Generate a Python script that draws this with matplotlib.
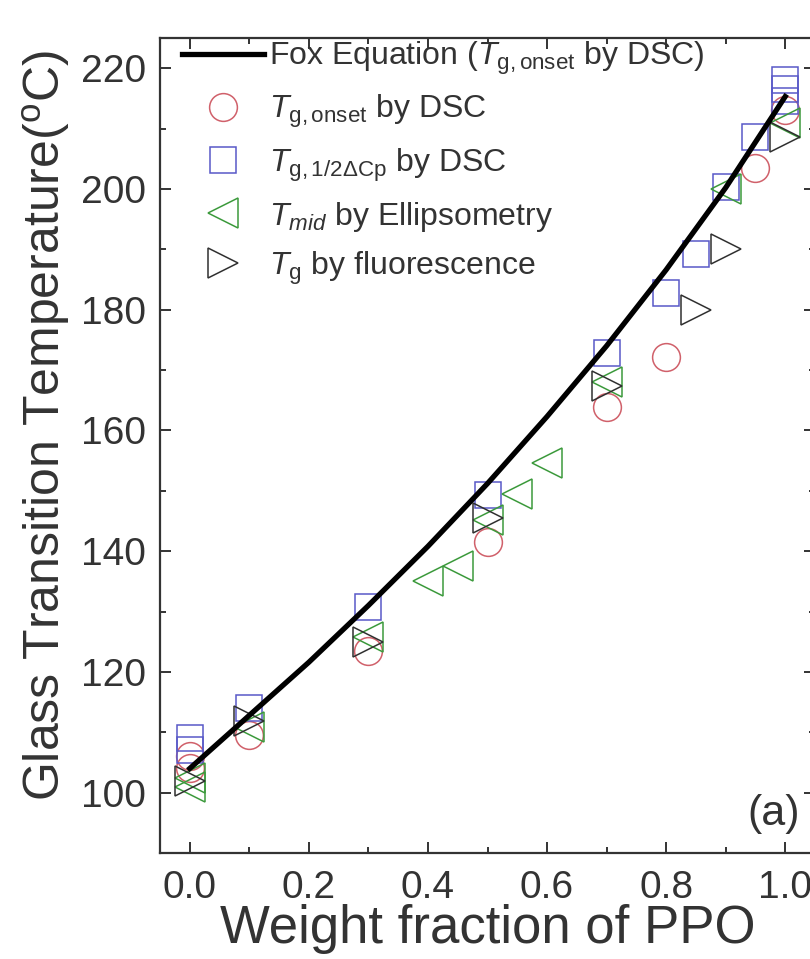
import matplotlib
matplotlib.use("Agg")
import matplotlib.pyplot as plt
from matplotlib.ticker import MultipleLocator

plt.rcParams['font.family'] = ['Liberation Sans', 'DejaVu Sans']
plt.rcParams['mathtext.fontset'] = 'custom'
plt.rcParams['mathtext.rm'] = 'Liberation Sans'
plt.rcParams['mathtext.it'] = 'Liberation Sans:italic'

# Fox equation curve
fox_w = [0.0, 0.1, 0.2, 0.3, 0.4, 0.5, 0.6, 0.7, 0.8, 0.9, 1.0]
fox_tg = [104, 112.8, 121.6, 131, 140.8, 151.2, 162.3, 174, 186.6, 200.2, 215.3]

# Tg,onset by DSC
onset_w = [0.0, 0.0, 0.1, 0.3, 0.5, 0.7, 0.8, 0.95, 1.0]
onset_tg = [104, 106, 109.5, 123.5, 141.5, 163.8, 172.2, 203.5, 213]

# Tg,1/2dCp by DSC
half_w = [0.0, 0.0, 0.1, 0.3, 0.5, 0.7, 0.8, 0.85, 0.9, 0.95, 1.0, 1.0, 1.0]
half_tg = [107, 109, 114, 130.8, 149.3, 172.8, 182.8, 189.2, 200.3, 208.6, 214.5, 216.5, 218]

# Tmid by ellipsometry
mid_w = [0.0, 0.0, 0.1, 0.3, 0.4, 0.45, 0.5, 0.55, 0.6, 0.7, 0.9, 1.0]
mid_tg = [101, 102.5, 110.8, 125.8, 135, 137.5, 145.2, 149.5, 154.6, 168, 200, 211]

# Tg by fluorescence
fl_w = [0.0, 0.1, 0.3, 0.5, 0.7, 0.85, 0.9, 1.0]
fl_tg = [102, 111.8, 125, 145.5, 167.3, 180, 190, 208.6]

fig = plt.figure(figsize=(8.1, 9.59), dpi=100)
ax = fig.add_axes([160 / 810, 106 / 959, 655 / 810, 815 / 959])

ms = 20
mew = 1.1
ax.plot(onset_w, onset_tg, 'o', ms=ms, mfc='none', mec='#d0606a', mew=mew,
        label=r'$T_{\mathrm{g,onset}}$ by DSC')
ax.plot(half_w, half_tg, 's', ms=ms - 1, mfc='none', mec='#5858c8', mew=mew,
        label=r'$T_{\mathrm{g,1/2\Delta Cp}}$ by DSC')
ax.plot(mid_w, mid_tg, '<', ms=ms + 2, mfc='none', mec='#3c9a3c', mew=mew,
        label=r'$T_{mid}$ by Ellipsometry')
ax.plot(fl_w, fl_tg, '>', ms=ms + 2, mfc='none', mec='#303030', mew=mew,
        label=r'$T_{\mathrm{g}}$ by fluorescence')
ax.plot(fox_w, fox_tg, '-', color='black', lw=3.8, zorder=5,
        label=r'Fox Equation ($T_{\mathrm{g,onset}}$ by DSC)')

ax.set_xlim(-0.05, 1.05)
ax.set_ylim(90, 225)
ax.xaxis.set_minor_locator(MultipleLocator(0.1))
ax.yaxis.set_minor_locator(MultipleLocator(10))
ax.set_xticks([0.0, 0.2, 0.4, 0.6, 0.8, 1.0])
ax.set_xticklabels(['0.0', '0.2', '0.4', '0.6', '0.8', '1.0'])
ax.set_yticks([100, 120, 140, 160, 180, 200, 220])

ax.tick_params(which='both', direction='in', top=True, right=True,
               labelsize=28, colors='#333333', width=1.4)
ax.tick_params(which='major', length=8)
ax.tick_params(which='minor', length=4)
ax.tick_params(axis='x', which='major', pad=12)
ax.tick_params(axis='y', which='major', pad=10)
for s in ax.spines.values():
    s.set_linewidth(1.6)
    s.set_color('#333333')

ax.set_xlabel('Weight fraction of PPO', fontsize=38, color='#333333', labelpad=-1)
ax.set_ylabel(r'Glass Transition Temperature($^{\mathrm{o}}$C)', fontsize=36,
              color='#333333')
ax.yaxis.set_label_coords(-0.135, 0.525)

ax.text(1.025, 96.5, '(a)', fontsize=31, color='#333333', ha='right', va='center')

h, l = ax.get_legend_handles_labels()
order = [4, 0, 1, 2, 3]
leg = ax.legend([h[i] for i in order], [l[i] for i in order], loc='upper left',
                bbox_to_anchor=(0.0, 1.025), frameon=False, fontsize=23,
                handlelength=2.55, handletextpad=0.15, labelspacing=0.5,
                borderaxespad=0.3, markerscale=1.0)
for t in leg.get_texts():
    t.set_color('#333333')

fig.savefig('out.png', dpi=100)
